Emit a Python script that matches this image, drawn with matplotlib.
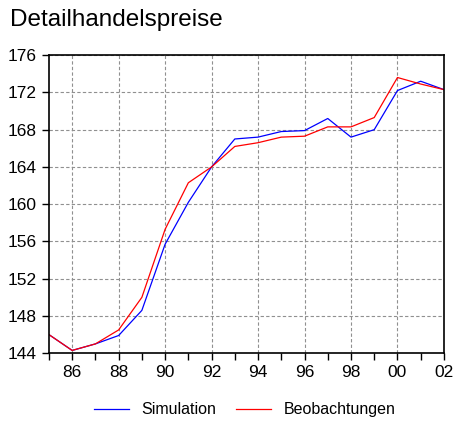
import matplotlib
matplotlib.use("Agg")
import matplotlib.pyplot as plt
from matplotlib.ticker import MultipleLocator, FuncFormatter

plt.rcParams["font.family"] = ["Liberation Sans", "DejaVu Sans"]

years = list(range(1985, 2003))
simulation = [146.0, 144.3, 145.0, 145.9, 148.6, 155.7, 160.2, 164.0, 167.0, 167.2,
              167.8, 167.9, 169.2, 167.2, 168.0, 172.2, 173.2, 172.3]
beobachtungen = [146.0, 144.3, 145.0, 146.5, 150.0, 157.3, 162.3, 164.0, 166.2, 166.6,
                 167.2, 167.3, 168.3, 168.3, 169.3, 173.6, 172.9, 172.3]

fig = plt.figure(figsize=(4.53, 4.21), dpi=100)
ax = fig.add_axes([0.108, 0.161, 0.872, 0.708])

ax.plot(years, simulation, color="#0000ff", lw=0.9, label="Simulation")
ax.plot(years, beobachtungen, color="#ff0000", lw=0.9, label="Beobachtungen")

ax.set_xlim(1985, 2002)
ax.set_ylim(144, 176)
ax.set_xticks(range(1986, 2003, 2))
ax.xaxis.set_minor_locator(MultipleLocator(1))
ax.xaxis.set_major_formatter(FuncFormatter(lambda v, p: f"{int(v) % 100:02d}"))
ax.yaxis.set_major_locator(MultipleLocator(4))
ax.tick_params(axis="both", labelsize=12.5, length=5, width=1, direction="out")
ax.tick_params(axis="x", which="minor", length=5, width=1)
ax.tick_params(top=False, right=False)
ax.grid(True, which="major", color="#909090", ls=(0, (3, 2)), lw=0.8)
for s in ax.spines.values():
    s.set_linewidth(1.2)

fig.text(0.022, 0.952, "Detailhandelspreise", fontsize=17.5, va="center", ha="left")
fig.legend(loc="center", bbox_to_anchor=(0.54, 0.027), ncol=2, frameon=False,
           fontsize=11.5, handlelength=2.2, columnspacing=1.2)

fig.savefig("out.png", dpi=100)
